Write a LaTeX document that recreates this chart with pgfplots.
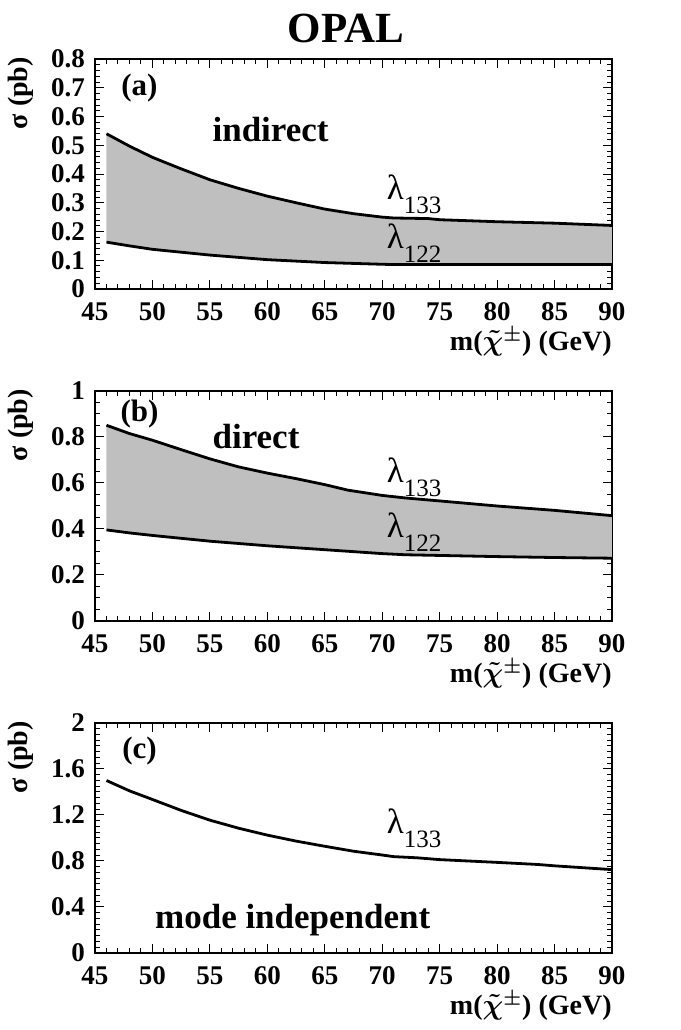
\documentclass[border=0pt]{standalone}
\usepackage{fontspec}
\setmainfont{Liberation Serif}
\usepackage{pgfplots}
\pgfplotsset{compat=1.18}

\newcommand{\lam}[1]{{\mdseries\fontsize{17.5}{17.5}\selectfont λ\raisebox{-7pt}{\fontsize{12.5}{12.5}\selectfont #1}}}
\newcommand{\txtfont}{\bfseries\fontsize{17.5}{17.5}\selectfont}
\newcommand{\chipm}{{\boldmath$\tilde{\chi}^{\pm}$}}

\pgfplotsset{
  myaxis/.style={
    scale only axis, width=258.5pt, height=115pt,
    xmin=45, xmax=90, xtick={45,50,55,60,65,70,75,80,85,90}, minor x tick num=4,
    tick align=inside, major tick length=4.6pt, minor tick length=2.4pt,
    axis line style={line width=0.6pt},
    every tick/.append style={black, line width=0.5pt},
    /pgf/number format/assume math mode=true,
    ticklabel style={font=\bfseries\fontsize{13.5}{13.5}\selectfont},
    xticklabel style={anchor=north, text height=9.5pt, text depth=0pt, yshift=-2.5pt},
    yticklabel style={xshift=-1.5pt},
    xlabel={m(\chipm) (GeV)},
    xlabel style={at={(axis description cs:1,-0.165)}, anchor=north east, inner sep=0pt,
      font=\bfseries\fontsize{14}{14}\selectfont},
    ylabel={σ (pb)},
    ylabel style={at={(axis description cs:-0.118,1.01)}, anchor=south east, inner sep=0pt,
      font=\bfseries\fontsize{14}{14}\selectfont},
  },
  mycurve/.style={black, line width=1.4pt},
}

\pgfplotstableread{
x y
46 0.540
48 0.497
50 0.458
52.5 0.418
55 0.380
57.5 0.350
60 0.323
62.5 0.300
65 0.278
67.5 0.262
70 0.250
71 0.247
74 0.245
75 0.241
80 0.234
85 0.229
90 0.221
}\tabAup
\pgfplotstableread{
x y
46 0.163
48 0.150
50 0.138
55 0.118
60 0.102
65 0.092
70 0.086
71 0.085
75 0.085
80 0.085
85 0.085
90 0.085
}\tabAlo
\pgfplotstableread{
x y
46 0.851
48 0.815
50 0.786
52.5 0.745
55 0.705
57.5 0.670
60 0.643
62.5 0.619
65 0.593
67 0.569
70 0.546
72 0.535
75 0.522
80 0.500
85 0.481
90 0.458
}\tabBup
\pgfplotstableread{
x y
46 0.396
48 0.383
50 0.372
55 0.347
60 0.327
65 0.310
70 0.293
72 0.288
75 0.285
80 0.280
85 0.276
90 0.273
}\tabBlo
\pgfplotstableread{
x y
46 1.50
48 1.41
50 1.335
52.5 1.24
55 1.155
57.5 1.085
60 1.025
62.5 0.973
65 0.928
67.5 0.885
70 0.852
71 0.838
73 0.828
75 0.812
80 0.788
83.5 0.770
85 0.758
90 0.725
}\tabC

\begin{document}
\begin{tikzpicture}
\useasboundingbox (0,0) rectangle (340.5pt,515pt);
\node[font=\bfseries\fontsize{21.5}{21.5}\selectfont] at (173pt,501pt) {OPAL};

% panel (a)
\begin{axis}[myaxis, at={(47.5pt,370.5pt)}, anchor=south west,
  ymin=0, ymax=0.8, ytick={0,0.1,0.2,0.3,0.4,0.5,0.6,0.7,0.8}, minor y tick num=4]
\addplot[fill=black!25, draw=none] coordinates {
 (46,0.540) (48,0.497) (50,0.458) (52.5,0.418) (55,0.380) (57.5,0.350) (60,0.323)
 (62.5,0.300) (65,0.278) (67.5,0.262) (70,0.250) (71,0.247) (74,0.245) (75,0.241)
 (80,0.234) (85,0.229) (90,0.221)
 (90,0.085) (85,0.085) (80,0.085) (75,0.085) (71,0.085) (70,0.086) (65,0.092)
 (60,0.102) (55,0.118) (50,0.138) (48,0.150) (46,0.163)};
\addplot[mycurve] table {\tabAup};
\addplot[mycurve] table {\tabAlo};
\node[font=\bfseries\fontsize{15.5}{15.5}\selectfont] at (axis cs:48.87,0.70) {(a)};
\node[font=\txtfont, anchor=base west, inner sep=0pt] at (axis cs:55.2,0.512) {indirect};
\node[anchor=base west, inner sep=0pt] at (axis cs:70.37,0.312) {\lam{133}};
\node[anchor=base west, inner sep=0pt] at (axis cs:70.37,0.142) {\lam{122}};
\end{axis}

% panel (b)
\begin{axis}[myaxis, at={(47.5pt,204.5pt)}, anchor=south west,
  ymin=0, ymax=1, ytick={0,0.2,0.4,0.6,0.8,1}, minor y tick num=3]
\addplot[fill=black!25, draw=none] coordinates {
 (46,0.851) (48,0.815) (50,0.786) (52.5,0.745) (55,0.705) (57.5,0.670) (60,0.643)
 (62.5,0.619) (65,0.593) (67,0.569) (70,0.546) (72,0.535) (75,0.522) (80,0.500)
 (85,0.481) (90,0.458)
 (90,0.273) (85,0.276) (80,0.280) (75,0.285) (72,0.288) (70,0.293) (65,0.310)
 (60,0.327) (55,0.347) (50,0.372) (48,0.383) (46,0.396)};
\addplot[mycurve] table {\tabBup};
\addplot[mycurve] table {\tabBlo};
\node[font=\bfseries\fontsize{15.5}{15.5}\selectfont] at (axis cs:48.87,0.90) {(b)};
\node[font=\txtfont, anchor=base west, inner sep=0pt] at (axis cs:55.2,0.748) {direct};
\node[anchor=base west, inner sep=0pt] at (axis cs:70.37,0.603) {\lam{133}};
\node[anchor=base west, inner sep=0pt] at (axis cs:70.37,0.365) {\lam{122}};
\end{axis}

% panel (c)
\begin{axis}[myaxis, at={(47.5pt,38.5pt)}, anchor=south west,
  ymin=0, ymax=2, ytick={0,0.4,0.8,1.2,1.6,2}, minor y tick num=7]
\addplot[mycurve] table {\tabC};
\node[font=\bfseries\fontsize{15.5}{15.5}\selectfont] at (axis cs:48.87,1.757) {(c)};
\node[anchor=base west, inner sep=0pt] at (axis cs:70.37,1.04) {\lam{133}};
\node[font=\txtfont, anchor=base west, inner sep=0pt] at (axis cs:50.2,0.216) {mode independent};
\end{axis}
\end{tikzpicture}
\end{document}
